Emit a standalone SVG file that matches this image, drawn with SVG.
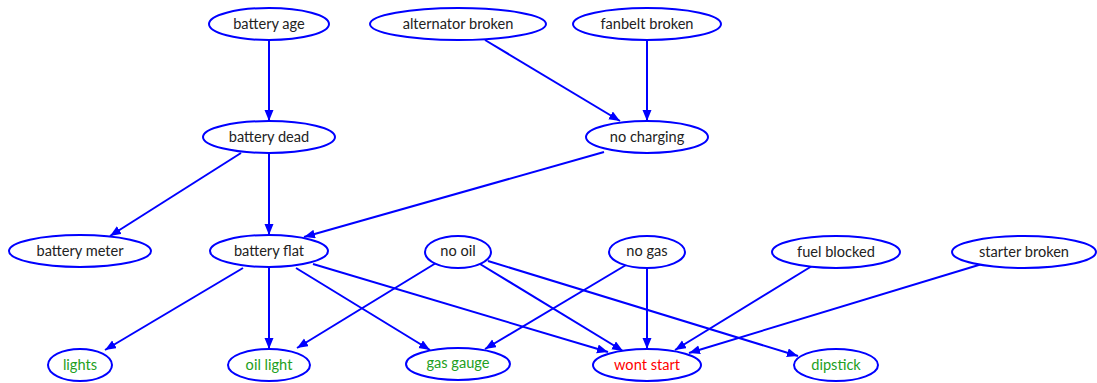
<svg xmlns="http://www.w3.org/2000/svg" width="1097" height="383" viewBox="0 0 1097 383">
<style>
.n ellipse{fill:#fff;stroke:#0000ff;stroke-width:2}
.n text{font-family:Lato,"Liberation Sans",sans-serif;font-size:14.6px;text-anchor:middle;fill:#222}
.n text.g{fill:#22a022}
.n text.r{fill:#ff0000}
#edges line{stroke:#0000ff;stroke-width:2;marker-end:url(#ah)}
</style>
<defs>
<marker id="ah" markerUnits="userSpaceOnUse" markerWidth="12" markerHeight="10" refX="11" refY="4.5" orient="auto">
<path d="M0,0 L11,4.5 L0,9 Z" fill="#0000ff"/>
</marker>
</defs>
<rect width="1097" height="383" fill="#fff"/>
<g id="edges">
<line x1="269" y1="40" x2="269" y2="121"/>
<line x1="485" y1="40" x2="620" y2="121"/>
<line x1="647" y1="40" x2="647" y2="121"/>
<line x1="241" y1="153" x2="110" y2="236"/>
<line x1="269" y1="153" x2="269" y2="235"/>
<line x1="604" y1="152" x2="304" y2="237"/>
<line x1="243" y1="268" x2="105" y2="350"/>
<line x1="269" y1="267" x2="269" y2="349"/>
<line x1="296" y1="268" x2="430" y2="350"/>
<line x1="313" y1="264" x2="608" y2="352"/>
<line x1="436" y1="263" x2="297" y2="348"/>
<line x1="480" y1="264" x2="623" y2="351"/>
<line x1="488" y1="261" x2="798" y2="356"/>
<line x1="626" y1="265" x2="485" y2="349"/>
<line x1="647" y1="268" x2="647" y2="349"/>
<line x1="812" y1="266" x2="675" y2="350"/>
<line x1="982" y1="264" x2="689" y2="353"/>
</g>
<g id="battery_age" class="n"><ellipse cx="269" cy="24" rx="60" ry="16"/><text x="269" y="29">battery age</text></g>
<g id="alternator_broken" class="n"><ellipse cx="458" cy="24" rx="88" ry="16"/><text x="458" y="29">alternator broken</text></g>
<g id="fanbelt_broken" class="n"><ellipse cx="647" cy="24" rx="74" ry="16"/><text x="647" y="29">fanbelt broken</text></g>
<g id="battery_dead" class="n"><ellipse cx="269" cy="137" rx="66" ry="16"/><text x="269" y="142">battery dead</text></g>
<g id="no_charging" class="n"><ellipse cx="647" cy="137" rx="61" ry="16"/><text x="647" y="142">no charging</text></g>
<g id="battery_meter" class="n"><ellipse cx="80" cy="251" rx="71" ry="16"/><text x="80" y="256">battery meter</text></g>
<g id="battery_flat" class="n"><ellipse cx="269" cy="251" rx="59" ry="16"/><text x="269" y="256">battery flat</text></g>
<g id="no_oil" class="n"><ellipse cx="458" cy="252" rx="33" ry="16"/><text x="458" y="256">no oil</text></g>
<g id="no_gas" class="n"><ellipse cx="647" cy="252" rx="38" ry="16"/><text x="647" y="256">no gas</text></g>
<g id="fuel_blocked" class="n"><ellipse cx="836" cy="252" rx="64" ry="16"/><text x="836" y="257">fuel blocked</text></g>
<g id="starter_broken" class="n"><ellipse cx="1024" cy="252" rx="72" ry="16"/><text x="1024" y="257">starter broken</text></g>
<g id="lights" class="n"><ellipse cx="80" cy="365" rx="32" ry="16"/><text class="g" x="80" y="370">lights</text></g>
<g id="oil_light" class="n"><ellipse cx="269" cy="365" rx="41" ry="16"/><text class="g" x="269" y="370">oil light</text></g>
<g id="gas_gauge" class="n"><ellipse cx="458" cy="364" rx="52" ry="16"/><text class="g" x="458" y="368">gas gauge</text></g>
<g id="wont_start" class="n"><ellipse cx="647" cy="365" rx="54" ry="16"/><text class="r" x="647" y="370">wont start</text></g>
<g id="dipstick" class="n"><ellipse cx="836" cy="365" rx="42" ry="16"/><text class="g" x="836" y="370">dipstick</text></g>
</svg>
